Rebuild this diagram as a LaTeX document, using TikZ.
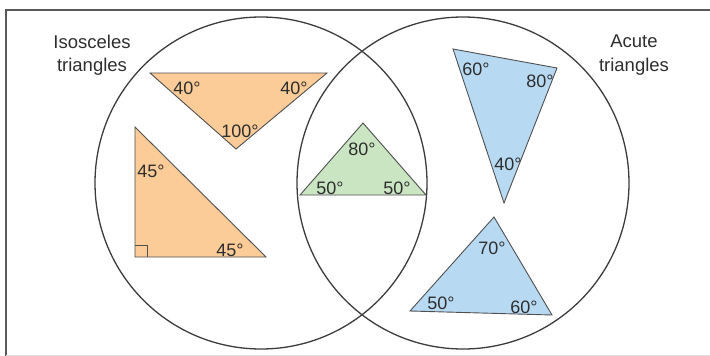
\documentclass[tikz,border=0pt]{standalone}
\usepackage{fontspec}
\setmainfont{Liberation Sans}
\definecolor{orangefill}{HTML}{FBCB98}
\definecolor{greenfill}{HTML}{C9E5C2}
\definecolor{bluefill}{HTML}{B7D9F2}
\definecolor{edge}{HTML}{505050}
\definecolor{ring}{HTML}{3C3C3C}
\definecolor{txt}{HTML}{2E2E2E}
\begin{document}
\begin{tikzpicture}[x=1pt,y=-1pt,
  tri/.style={draw=edge, line width=0.9pt, line join=miter},
  setring/.style={draw=ring, line width=1.3pt, circle, minimum size=332pt, inner sep=0pt},
  lbl/.style={font=\fontsize{18}{18}\selectfont, text=txt, inner sep=0pt, anchor=base},
  title/.style={font=\fontsize{18.5}{18.5}\selectfont, text=txt, inner sep=0pt, anchor=base}]
\useasboundingbox (0,0) rectangle (710,356);
% frame
\draw[draw=black!65, line width=2pt] (5,10) -- (710,10);
\draw[draw=black!65, line width=2pt] (6,9) -- (6,356);
\draw[draw=black!12, line width=1pt] (6,355) -- (710,355);
% sets
\node[setring] (iso) at (261,183) {};
\node[setring] (acute) at (463,183) {};
% titles
\node[title] (isoA) at (92,48) {Isosceles};
\node[title] (isoB) at (92,71) {triangles};
\node[title] (acA) at (634,47) {Acute};
\node[title] (acB) at (634,71) {triangles};
% orange obtuse isosceles
\coordinate (o1) at (150,73);
\coordinate (o2) at (327,73);
\coordinate (o3) at (236,149);
\draw[tri, fill=orangefill] (o1) -- (o2) -- (o3) -- cycle;
\node[lbl] (o1l) at (187,94) {40°};
\node[lbl] (o2l) at (294,94) {40°};
\node[lbl] (o3l) at (240,137) {100°};
% orange right isosceles
\coordinate (r1) at (135,127);
\coordinate (r2) at (135,257);
\coordinate (r3) at (266,257);
\draw[tri, fill=orangefill] (r1) -- (r2) -- (r3) -- cycle;
\draw[tri] (135,245) -- (147,245) -- (147,257);
\node[lbl] (r1l) at (151,177) {45°};
\node[lbl] (r3l) at (230,256) {45°};
% green
\coordinate (g1) at (363,123);
\coordinate (g2) at (300,195);
\coordinate (g3) at (426,195);
\draw[tri, fill=greenfill] (g1) -- (g2) -- (g3) -- cycle;
\node[lbl] (g1l) at (362,155) {80°};
\node[lbl] (g2l) at (330,194) {50°};
\node[lbl] (g3l) at (397,194) {50°};
% blue top
\coordinate (b1) at (453,49);
\coordinate (b2) at (557,68);
\coordinate (b3) at (504,203);
\draw[tri, fill=bluefill] (b1) -- (b2) -- (b3) -- cycle;
\node[lbl] (b1l) at (476,75) {60°};
\node[lbl] (b2l) at (540,87) {80°};
\node[lbl] (b3l) at (508,170) {40°};
% blue bottom
\coordinate (c1) at (494,217);
\coordinate (c2) at (410,311);
\coordinate (c3) at (552,315);
\draw[tri, fill=bluefill] (c1) -- (c2) -- (c3) -- cycle;
\node[lbl] (c1l) at (492,254) {70°};
\node[lbl] (c2l) at (441,309) {50°};
\node[lbl] (c3l) at (524,313) {60°};
\end{tikzpicture}
\end{document}
